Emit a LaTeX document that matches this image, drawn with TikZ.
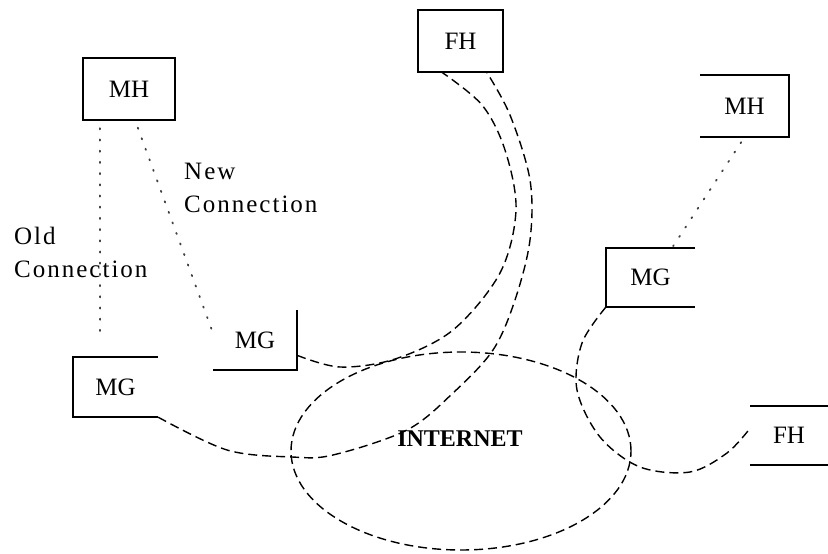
\documentclass[tikz,border=0pt]{standalone}
\usepackage{fontspec}
\setmainfont{Liberation Serif}
\usetikzlibrary{shapes.geometric}
\begin{document}
\begin{tikzpicture}[x=1pt,y=-1pt,
  boxtxt/.style={inner sep=0pt, minimum width=85pt, minimum height=60pt, font=\fontsize{25}{28}\selectfont},
  side/.style={line width=1.8pt, line join=miter},
  conn/.style={line width=1.4pt, dash pattern=on 9pt off 5pt},
  dots/.style={line width=1.8pt, dash pattern=on 1.2pt off 10pt, line cap=round, black!75},
  lab/.style={font=\fontsize{25}{33}\selectfont\addfontfeature{LetterSpace=8}, align=left, inner sep=0pt, anchor=north west}]
\useasboundingbox (0,0) rectangle (828,554);
\fill[white] (0,0) rectangle (828,554);

% boxes
\node[boxtxt, minimum width=92pt, minimum height=62pt] (mhA) at (129,89) {MH};
\draw[side] (mhA.north west) rectangle (mhA.south east);
\node[boxtxt, minimum width=85pt, minimum height=62pt] (fhA) at (460.5,41) {FH};
\draw[side] (fhA.north west) rectangle (fhA.south east);
\node[boxtxt, minimum width=89pt, minimum height=62pt] (mhB) at (744.5,106) {MH};
\draw[side] (mhB.north west) -- (mhB.north east) -- (mhB.south east) -- (mhB.south west);
\node[boxtxt, minimum width=89pt, minimum height=59pt] (mgC) at (650.5,277.5) {MG};
\draw[side] (mgC.north east) -- (mgC.north west) -- (mgC.south west) -- (mgC.south east);
\node[boxtxt, minimum width=84pt, minimum height=60pt] (mgB) at (255,340) {MG};
\draw[side] (mgB.north east) -- (mgB.south east) -- (mgB.south west);
\node[boxtxt, minimum width=85pt, minimum height=60pt] (mgA) at (115.5,387) {MG};
\draw[side] (mgA.north east) -- (mgA.north west) -- (mgA.south west) -- (mgA.south east);
\node[boxtxt, minimum width=78pt, minimum height=59pt] (fhB) at (789,435.5) {FH};
\draw[side] (fhB.north west) -- (fhB.north east) (fhB.south west) -- (fhB.south east);

% internet
\node[draw, ellipse, conn, minimum width=340pt, minimum height=198pt, inner sep=0pt] (net) at (461,451) {};
\node[font=\bfseries\fontsize{24}{28}\selectfont, inner sep=0pt] (nettxt) at (460,439) {INTERNET};

% labels
\node[lab] (newlab) at (184,163) {New\\Connection};
\node[lab] (oldlab) at (14,227) {Old\\Connection};

% dotted radio links
\draw[dots, shorten <=8pt, shorten >=17pt] (mhA.-133) -- (mgA.117);
\draw[dots, shorten <=8pt, shorten >=2pt] (mhA.-79) -- (mgB.170);
\draw[dots, shorten <=6pt, shorten >=2pt] (mhB.south) -- (mgC.54);

% wired connections
\draw[conn] plot[smooth, tension=0.55] coordinates {(mgB.-20) (340,367) (395,359) (453,330) (500,273) (516,210) (505,150) (482,105) (fhA.-121)};
\draw[conn] plot[smooth, tension=0.55] coordinates {(mgA.south east) (227,450) (292,457) (333,455) (407,430) (453,393) (493,350) (515,300) (530,240) (530,180) (510,115) (fhA.-50)};
\draw[conn] plot[smooth, tension=0.55] coordinates {(mgC.south west) (582,343) (577,390) (600,437) (640,467) (690,472) (727,453) (fhB.170)};
\end{tikzpicture}
\end{document}
